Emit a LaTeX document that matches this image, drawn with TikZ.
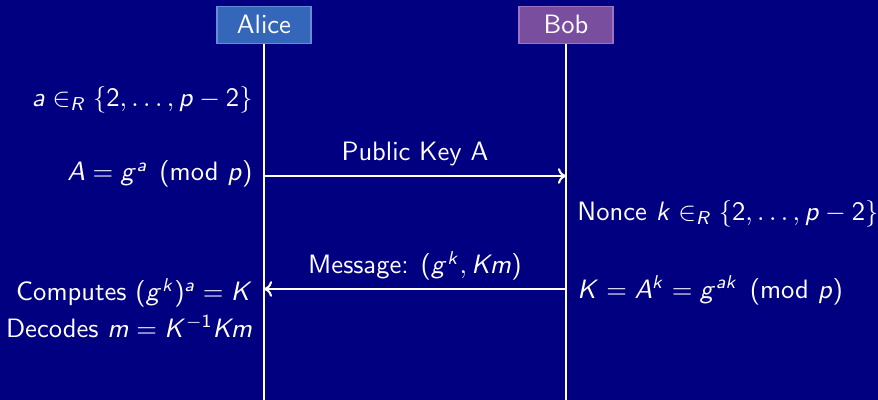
\documentclass[tikz,border=0pt]{standalone}
\usepackage{fix-cm}
\usepackage{amsmath}
\usetikzlibrary{arrows.meta}
\DeclareSymbolFont{sfit}{OT1}{cmss}{m}{sl}
\SetSymbolFont{operators}{normal}{OT1}{cmss}{m}{n}
\newcount\lettercnt
\lettercnt=`a
\loop
  \Umathcode\lettercnt=7 \symsfit \lettercnt
  \advance\lettercnt by 1
\ifnum\lettercnt<123 \repeat
\lettercnt=`A
\loop
  \Umathcode\lettercnt=7 \symsfit \lettercnt
  \advance\lettercnt by 1
\ifnum\lettercnt<91 \repeat
\definecolor{bg}{RGB}{0,0,128}
\definecolor{alicec}{RGB}{52,102,186}
\definecolor{aliceb}{RGB}{100,140,215}
\definecolor{bobc}{RGB}{122,78,158}
\definecolor{bobb}{RGB}{155,115,190}
\begin{document}
\begin{tikzpicture}[x=0.447pt,y=-0.447pt,
  font=\fontencoding{OT1}\fontfamily{cmss}\fontsize{11.88}{14}\selectfont,
  actor/.style={minimum width={94*0.447pt},minimum height={37*0.447pt},inner sep=0pt,text=white,line width=0.45pt},
  lifeline/.style={white,line width=0.9pt},
  msg/.style={white,line width=0.9pt,-{To[length=3.6pt,width=7pt]}},
  lbl/.style={text=white,inner sep=0pt}]
\fill[bg] (0,0) rectangle (878,400);
\useasboundingbox (0,0) rectangle (878,400);
% actors
\node[actor,fill=alicec,draw=aliceb] (alice) at (264,24.7) {Alice};
\node[actor,fill=bobc,draw=bobb] (bob) at (566,24.7) {Bob};
\coordinate (aend) at (264,400);
\coordinate (bend) at (566,400);
\draw[lifeline] (alice.south) -- (aend);
\draw[lifeline] (bob.south) -- (bend);
% message anchors
\coordinate (a1) at (264,176);
\coordinate (b1) at (566,176);
\coordinate (a2) at (264,289);
\coordinate (b2) at (566,289);
\draw[msg] (a1) -- (b1) node[lbl,midway,anchor=base,yshift={15*0.447pt}] (m1) {Public Key A};
\draw[msg] (b2) -- (a2) node[lbl,midway,anchor=base,yshift={15*0.447pt}] (m2) {Message: $(g^k,Km)$};
% Alice texts
\node[lbl,anchor=base east] (t1) at (253,106.7) {$a\in_R\{2,\ldots,p-2\}$};
\node[lbl,anchor=base east] (t2) at (253,181) {$A=g^a\pmod p$};
\node[lbl,anchor=base east] (t3) at (253,300.7) {Computes $(g^k)^a=K$};
\node[lbl,anchor=base east] (t4) at (253,337.3) {Decodes $m=K^{-1}Km$};
% Bob texts
\node[lbl,anchor=base west] (t5) at (577,220.7) {Nonce $k\in_R\{2,\ldots,p-2\}$};
\node[lbl,anchor=base west] (t6) at (577,298.3) {$K=A^k=g^{ak}\pmod p$};
\end{tikzpicture}
\end{document}
